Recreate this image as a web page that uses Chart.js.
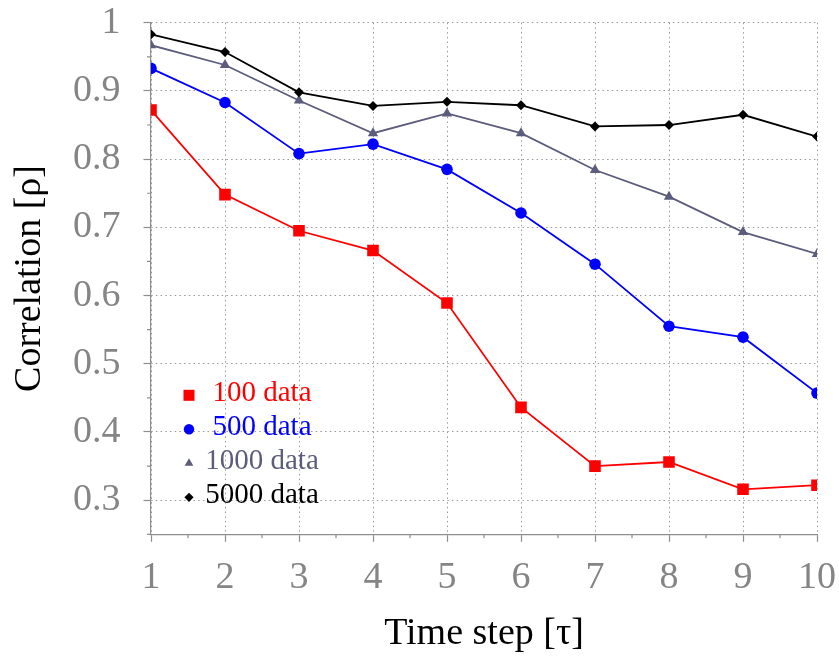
<!DOCTYPE html>
<html><head><meta charset="utf-8">
<script src="https://cdn.jsdelivr.net/npm/chart.js@4/dist/chart.umd.min.js"></script>
<style>html,body{margin:0;padding:0;background:#fff}canvas{display:block}</style>
</head><body>
<canvas id="c" width="839" height="660"></canvas>
<script>
const timeSteps = [1, 2, 3, 4, 5, 6, 7, 8, 9, 10];
const data100  = [0.872, 0.748, 0.695, 0.666, 0.589, 0.436, 0.350, 0.356, 0.316, 0.322];
const data500  = [0.933, 0.883, 0.808, 0.822, 0.785, 0.721, 0.646, 0.555, 0.539, 0.457];
const data1000 = [0.967, 0.938, 0.886, 0.838, 0.867, 0.838, 0.784, 0.745, 0.693, 0.661];
const data5000 = [0.983, 0.957, 0.898, 0.878, 0.884, 0.879, 0.848, 0.850, 0.865, 0.833];
const seriesLabels = ['100 data', '500 data', '1000 data', '5000 data'];
const yTickLabels = ['0.3', '0.4', '0.5', '0.6', '0.7', '0.8', '0.9', '1'];
const xTickLabels = ['1', '2', '3', '4', '5', '6', '7', '8', '9', '10'];
const xTitle = 'Time step [τ]';
const yTitle = 'Correlation [ρ]';

const AXIS = '#8e8e8e';
const GRID = '#9a9a9a';
const TICKTXT = '#858585';
const FONT = "'Liberation Serif', 'DejaVu Serif', serif";

function pts(vals) { return vals.map((v, i) => ({x: timeSteps[i], y: v})); }

const styles = [
  {color: '#ff0000', pointStyle: 'rect', radius: 8.2},
  {color: '#0000ff', pointStyle: 'circle', radius: 5.8},
  {color: '#5c5c7c', pointStyle: 'triangle', radius: 6},
  {color: '#000000', pointStyle: 'rectRot', radius: 5}
];
const seriesData = [data100, data500, data1000, data5000];

const datasets = seriesData.map((d, i) => ({
  label: seriesLabels[i],
  data: pts(d),
  borderColor: styles[i].color,
  backgroundColor: styles[i].color,
  pointBackgroundColor: styles[i].color,
  pointBorderColor: styles[i].color,
  pointBorderWidth: 0,
  pointStyle: styles[i].pointStyle,
  pointRadius: styles[i].radius,
  borderWidth: 1.8,
  tension: 0,
  order: 4 - i
}));

function drawMarker(ctx, style, r, x, y, color) {
  ctx.save();
  ctx.fillStyle = color; ctx.strokeStyle = color; ctx.lineWidth = 0;
  if (Chart.helpers && Chart.helpers.drawPoint) {
    Chart.helpers.drawPoint(ctx, {pointStyle: style, radius: r, rotation: 0, borderWidth: 0}, x, y);
  } else {
    ctx.beginPath();
    if (style === 'rect') { const s = r * Math.SQRT1_2; ctx.rect(x - s, y - s, 2 * s, 2 * s); }
    else if (style === 'circle') { ctx.arc(x, y, r, 0, Math.PI * 2); }
    else if (style === 'triangle') { ctx.moveTo(x, y - r); ctx.lineTo(x + r * 0.866, y + r / 2); ctx.lineTo(x - r * 0.866, y + r / 2); ctx.closePath(); }
    else { ctx.moveTo(x, y - r); ctx.lineTo(x + r, y); ctx.lineTo(x, y + r); ctx.lineTo(x - r, y); ctx.closePath(); }
    ctx.fill();
  }
  ctx.restore();
}

const extras = {
  id: 'extras',
  afterDatasetsDraw(chart) {
    const ctx = chart.ctx;
    const xs = chart.scales.x, ys = chart.scales.y;
    ctx.save();
    ctx.strokeStyle = AXIS; ctx.lineWidth = 1.2;
    ctx.beginPath();
    for (let k = 0; k < timeSteps.length - 1; k++) {
      const px = xs.getPixelForValue((timeSteps[k] + timeSteps[k + 1]) / 2);
      ctx.moveTo(px, ys.bottom); ctx.lineTo(px, ys.bottom + 4);
    }
    const yv = yTickLabels.map(parseFloat);
    const minorY = [yv[0] - 0.05].concat(yv.slice(0, -1).map(v => v + 0.05));
    minorY.forEach(v => {
      const py = ys.getPixelForValue(v);
      ctx.moveTo(xs.left, py); ctx.lineTo(xs.left - 4, py);
    });
    ctx.stroke();
    ctx.restore();
    const ca = chart.chartArea;
    const rowH = 34;
    const markerX = ca.left + 38;
    const textX = ca.left + 111;
    chart.data.datasets.forEach((ds, i) => {
      const y = ca.bottom - 37 - (chart.data.datasets.length - 1 - i) * rowH;
      const r = ds.pointStyle === 'rect' ? 7.8 : (ds.pointStyle === 'circle' ? 5.2 : (ds.pointStyle === 'triangle' ? 5 : 4.6));
      drawMarker(ctx, ds.pointStyle, r, markerX, y, ds.borderColor);
      ctx.save();
      ctx.fillStyle = ds.borderColor;
      ctx.font = "29px " + FONT;
      ctx.textAlign = 'center';
      ctx.textBaseline = 'middle';
      ctx.fillText(ds.label, textX, y - 2);
      ctx.restore();
    });
  }
};

new Chart(document.getElementById('c'), {
  type: 'line',
  data: {datasets},
  plugins: [extras],
  options: {
    responsive: false,
    animation: false,
    devicePixelRatio: 1,
    layout: {padding: {top: 22.7, right: 22, bottom: 0, left: 0}},
    plugins: {legend: {display: false}, tooltip: {enabled: false}},
    scales: {
      x: {
        type: 'linear',
        min: timeSteps[0],
        max: timeSteps[timeSteps.length - 1],
        afterBuildTicks: s => { s.ticks = timeSteps.map(v => ({value: v})); },
        afterFit: s => { s.height = 125.7; s.paddingLeft = 0; s.paddingRight = 0; },
        ticks: {
          callback: (v, i) => xTickLabels[i],
          color: TICKTXT,
          font: {family: FONT, size: 38},
          padding: 13,
          maxRotation: 0,
          autoSkip: false
        },
        grid: {color: GRID, lineWidth: 1, tickLength: 7.5, tickColor: AXIS, tickWidth: 1.2},
        border: {display: true, color: AXIS, width: 1.2, dash: [1.5, 3.2]},
        title: {display: true, text: xTitle, color: '#000', font: {family: FONT, size: 38}, padding: {top: 0, bottom: 3}}
      },
      y: {
        type: 'linear',
        min: 0.25,
        max: 1.0,
        afterBuildTicks: s => { s.ticks = yTickLabels.map(t => ({value: parseFloat(t)})); },
        afterFit: s => { s.width = 151; s.paddingTop = 0; s.paddingBottom = 0; },
        ticks: {
          callback: (v, i) => yTickLabels[i],
          color: TICKTXT,
          font: {family: FONT, size: 38},
          padding: 23,
          autoSkip: false
        },
        grid: {color: GRID, lineWidth: 1, tickLength: 7.5, tickColor: AXIS, tickWidth: 1.2},
        border: {display: true, color: AXIS, width: 1.2, dash: [1.5, 3.2]},
        title: {display: true, text: yTitle, color: '#000', font: {family: FONT, size: 38}, padding: {top: 7, bottom: 0}}
      }
    }
  }
});
</script>
</body></html>
